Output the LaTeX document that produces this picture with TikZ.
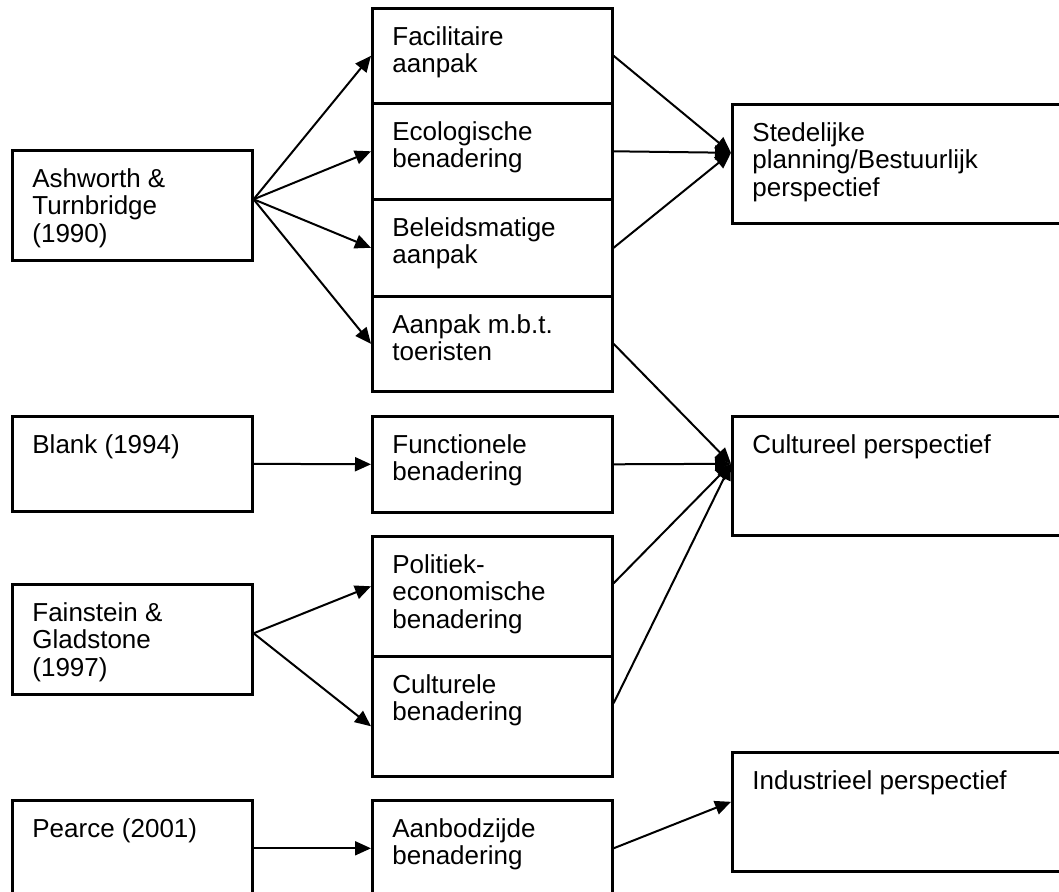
\documentclass[tikz,border=0pt]{standalone}
\usepackage{fontspec}
\setmainfont{Liberation Sans}
\usetikzlibrary{arrows.meta,calc}

\tikzset{
  vak/.style 2 args={draw, line width=1.3pt, anchor=north west, inner sep=0pt,
    minimum width=#1, minimum height=#2},
  tekst/.style={anchor=north west, align=left, inner xsep=10.5pt, inner ysep=9.5pt,
    font=\fontsize{13pt}{13.8pt}\selectfont},
  pijl/.style={-{Triangle[length=8pt,width=7pt]}, line width=1pt},
}

\begin{document}
\begin{tikzpicture}[x=0.5pt,y=-0.5pt]
  \useasboundingbox (0,0) rectangle (1059,892);
  \clip (0,0) rectangle (1059,892);

  % auteurs
  \node[vak={120pt}{55pt},label={[tekst]north west:Ashworth \&\\Turnbridge\\(1990)}] (ash) at (11,149) {};
  \node[vak={120pt}{47.5pt},label={[tekst]north west:Blank (1994)}] (bla) at (11,415) {};
  \node[vak={120pt}{55pt},label={[tekst]north west:Fainstein \&\\Gladstone\\(1997)}] (fai) at (11,583) {};
  \node[vak={120pt}{48pt},label={[tekst]north west:Pearce (2001)}] (pea) at (11,799) {};

  % benaderingen
  \node[vak={120pt}{47.5pt},label={[tekst]north west:Facilitaire\\aanpak}] (fac) at (371,7) {};
  \node[vak={120pt}{48pt},label={[tekst]north west:Ecologische\\benadering}] (eco) at (371,102) {};
  \node[vak={120pt}{48.5pt},label={[tekst]north west:Beleidsmatige\\aanpak}] (bel) at (371,198) {};
  \node[vak={120pt}{47.5pt},label={[tekst]north west:Aanpak m.b.t.\\toeristen}] (aan) at (371,295) {};
  \node[vak={120pt}{48pt},label={[tekst]north west:Functionele\\benadering}] (fun) at (371,415) {};
  \node[vak={120pt}{60pt},label={[tekst]north west:Politiek-\\economische\\benadering}] (pol) at (371,535) {};
  \node[vak={120pt}{60pt},label={[tekst]north west:Culturele\\benadering}] (cul) at (371,655) {};
  \node[vak={120pt}{48pt},label={[tekst]north west:Aanbodzijde\\benadering}] (aab) at (371,799) {};

  % perspectieven
  \node[vak={172pt}{59.5pt},label={[tekst]north west:Stedelijke\\planning/Bestuurlijk\\perspectief}] (ste) at (731,103) {};
  \node[vak={172pt}{59.5pt},label={[tekst]north west:Cultureel perspectief}] (cpe) at (731,415) {};
  \node[vak={172pt}{59.5pt},label={[tekst]north west:Industrieel perspectief}] (ind) at (731,751) {};

  % pijlen
  \foreach \m in {fac,eco,bel,aan}
    \draw[pijl] ($(ash.east)+(0,-6)$) -- (\m.west);
  \draw[pijl] (bla.east) -- (fun.west);
  \draw[pijl] ($(fai.east)+(0,-6)$) -- ($(pol.west)+(0,-10)$);
  \draw[pijl] ($(fai.east)+(0,-6)$) -- ($(cul.west)+(0,10)$);
  \draw[pijl] (pea.east) -- (aab.west);

  \foreach \m in {fac,eco,bel}
    \draw[pijl] (\m.east) -- ($(ste.west)+(0,-11)$);
  \foreach \m/\d in {aan/0,fun/0,pol/-13,cul/-13}
    \draw[pijl] ($(\m.east)+(0,\d)$) -- ($(cpe.west)+(0,-12)$);
  \draw[pijl] (aab.east) -- ($(ind.west)+(0,-10)$);
\end{tikzpicture}
\end{document}
